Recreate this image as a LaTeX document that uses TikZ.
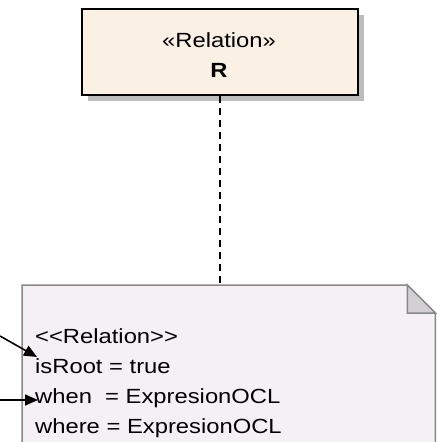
\documentclass[tikz,border=0pt]{standalone}
\usepackage{fontspec}
\setmainfont{Liberation Sans}[FakeStretch=1.16]
\usetikzlibrary{arrows.meta,calc}
\definecolor{classfill}{HTML}{FAF0E3}
\definecolor{shadowgray}{HTML}{BDBDBD}
\definecolor{notefill}{HTML}{F4F0F4}
\definecolor{noteline}{HTML}{888888}
\definecolor{foldfill}{HTML}{D3D0D3}
\tikzset{
  classbox/.style={draw=black, line width=2.2pt, fill=classfill,
    minimum width=276pt, minimum height=86pt, inner sep=0pt, anchor=north west},
  notetext/.style={anchor=base west, inner sep=0pt, font=\fontsize{20.5}{26}\selectfont},
  boxtext/.style={anchor=base, inner sep=0pt, font=\fontsize{20.5}{26}\selectfont},
  dep/.style={line width=2.2pt, dash pattern=on 7pt off 5pt},
  pointer/.style={line width=1.6pt, -{Triangle[length=13pt,width=11pt]}}
}
\begin{document}
\begin{tikzpicture}[x=1pt,y=1pt]
  \useasboundingbox (0,-442) rectangle (437,0);
  % class box with drop shadow
  \fill[shadowgray] (88,-15) rectangle (364,-101);
  \node[classbox] (rel) at (81,-8) {};
  \node[boxtext] (stereo) at (219,-47) {«Relation»};
  \node[boxtext, font=\fontsize{20.5}{26}\selectfont\bfseries] (name) at (219,-77) {R};
  % note with folded corner
  \node[minimum width=413pt, minimum height=200pt, inner sep=0pt, anchor=north west] (note) at (22,-285) {};
  \coordinate (foldA) at ($(note.north east)+(-28,0)$);
  \coordinate (foldB) at ($(note.north east)+(0,-28)$);
  \coordinate (foldC) at ($(note.north east)+(-28,-28)$);
  \filldraw[draw=noteline, line width=1.5pt, fill=notefill]
    (note.south west) -- (note.north west) -- (foldA) -- (foldB) -- (note.south east) -- cycle;
  \filldraw[draw=noteline, line width=1.5pt, fill=foldfill]
    (foldA) -- (foldC) -- (foldB) -- cycle;
  % dependency from class to note
  \draw[dep] (rel.south) -- (rel.south |- note.north);
  % note contents
  \node[notetext] (l1) at (35,-343) {<{}<Relation>{}>};
  \node[notetext] (l2) at (35,-373) {isRoot = true};
  \node[notetext] (l3) at (35,-403) {when\ \ = ExpresionOCL};
  \node[notetext] (l4) at (35,-433) {where = ExpresionOCL};
  % incoming pointers
  \coordinate (src1) at (0,-336);
  \coordinate (dst1) at (37,-357);
  \coordinate (src2) at (0,-400);
  \coordinate (dst2) at (38,-400);
  \draw[pointer] (src1) -- (dst1);
  \draw[pointer] (src2) -- (dst2);
\end{tikzpicture}
\end{document}
